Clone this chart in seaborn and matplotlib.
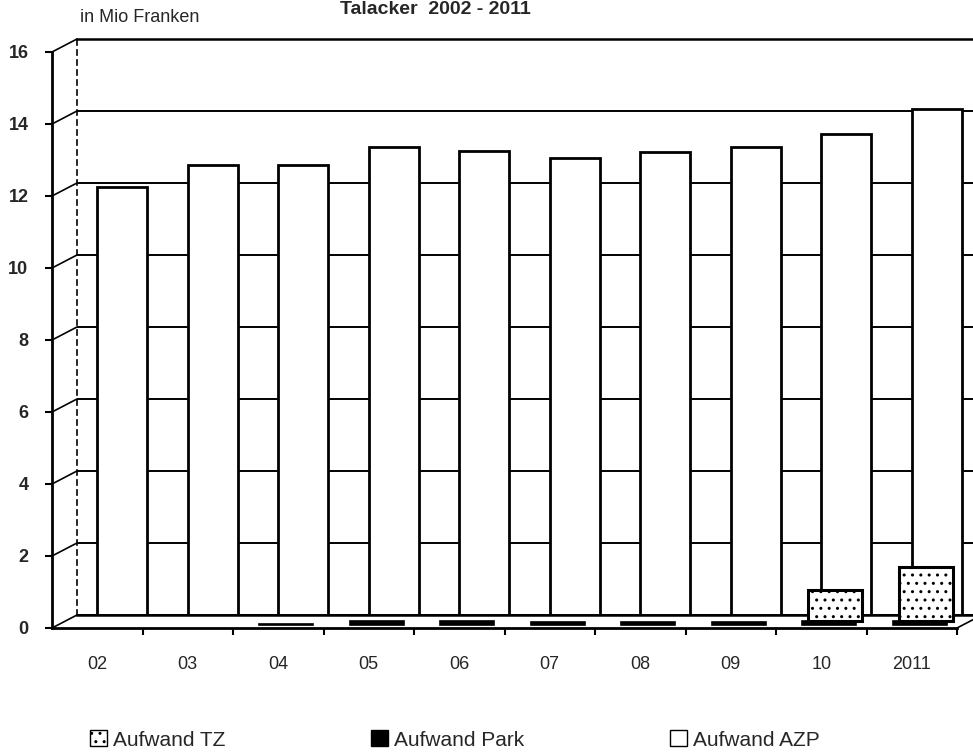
import numpy as np
import pandas as pd
import matplotlib
matplotlib.use("Agg")
import matplotlib.pyplot as plt
import seaborn as sns
from matplotlib.transforms import ScaledTranslation
from matplotlib.patches import ConnectionPatch, Patch

years = ["02", "03", "04", "05", "06", "07", "08", "09", "10", "2011"]
aufwand_tz = [0, 0, 0, 0, 0, 0, 0, 0, 0.85, 1.5]
aufwand_park = [0, 0, 0.02, 0.1, 0.1, 0.08, 0.08, 0.08, 0.1, 0.1]
aufwand_azp = [11.9, 12.5, 12.5, 13.0, 12.9, 12.7, 12.85, 13.0, 13.35, 14.05]
y_ticks = [0, 2, 4, 6, 8, 10, 12, 14, 16]

sns.set_style("white")
plt.rcParams['font.family'] = ['Liberation Sans', 'DejaVu Sans']

W, H, DPI = 973, 752, 100
fig = plt.figure(figsize=(W / DPI, H / DPI), dpi=DPI)

# front plane (axis, ticks) and back wall shifted to fake the 3D depth
left, bottom, width, height = 52, 628, 905, 576
ax_back = fig.add_axes([(left + 25) / W, (H - bottom + 13) / H, width / W, height / H])
ax = fig.add_axes([left / W, (H - bottom) / H, width / W, height / H])
ax.patch.set_alpha(0)

# back wall with AZP bars
sns.barplot(x=years, y=aufwand_azp, ax=ax_back, color="white", edgecolor="black",
            linewidth=2, width=0.55, saturation=1)
ax_back.set_ylim(0, 16)
ax_back.set_yticks(y_ticks)
ax_back.yaxis.grid(True, color="black", linewidth=1.4)
ax_back.set_axisbelow(True)
ax_back.tick_params(left=False, bottom=False, labelleft=False, labelbottom=False)
for s in ["top", "bottom", "right"]:
    ax_back.spines[s].set_color("black")
    ax_back.spines[s].set_linewidth(1.8)
ax_back.spines["left"].set_linestyle((0, (3, 3)))
ax_back.spines["left"].set_linewidth(1.2)
ax_back.spines["left"].set_color("black")
ax_back.set_xlabel("")
ax_back.set_ylabel("")

# front rows: Park (black) and TZ (dotted)
n0 = len(ax.patches)
sns.barplot(x=years, y=aufwand_tz, ax=ax, color="white", edgecolor="black",
            linewidth=2.2, width=0.6, saturation=1)
tz_bars = ax.patches[n0:]
n1 = len(ax.patches)
sns.barplot(x=years, y=aufwand_park, ax=ax, color="black", edgecolor="black",
            linewidth=1.2, width=0.6, saturation=1)
park_bars = ax.patches[n1:]

for p in tz_bars:
    p.set_transform(ax.transData + ScaledTranslation(14 / DPI, 7 / DPI, fig.dpi_scale_trans))
    p.set_hatch("..")
    if p.get_height() == 0:
        p.set_linewidth(0)
for p in park_bars:
    p.set_transform(ax.transData + ScaledTranslation(8 / DPI, 3 / DPI, fig.dpi_scale_trans))
    if p.get_height() == 0:
        p.set_linewidth(0)

ax.set_ylim(0, 16)
ax.set_xlim(-0.5, len(years) - 0.5)
ax_back.set_xlim(-0.5, len(years) - 0.5)
ax.set_yticks(y_ticks)
ax.set_yticklabels([str(t) for t in y_ticks], fontsize=13, fontweight="bold")
ax.set_xticks(range(len(years)))
ax.set_xticklabels(years, fontsize=13)
ax.set_xticks(np.arange(0.5, len(years) - 0.5 + 0.01, 1), minor=True)
ax.tick_params(axis="y", left=True, length=5, width=1.5, pad=12, color="black")
ax.tick_params(axis="x", which="major", bottom=False, length=0, pad=20)
ax.tick_params(axis="x", which="minor", bottom=True, length=5, width=1.5, color="black")
for s in ["top", "right"]:
    ax.spines[s].set_visible(False)
for s in ["left", "bottom"]:
    ax.spines[s].set_color("black")
    ax.spines[s].set_linewidth(2)
ax.set_xlabel("")
ax.set_ylabel("")

# slanted edges between front axis and back wall
for t in y_ticks:
    con = ConnectionPatch(xyA=(-0.5, t), coordsA=ax.transData,
                          xyB=(-0.5, t), coordsB=ax_back.transData,
                          color="black", linewidth=1.2)
    fig.add_artist(con)
con = ConnectionPatch(xyA=(len(years) - 0.5, 0), coordsA=ax.transData,
                      xyB=(len(years) - 0.5, 0), coordsB=ax_back.transData,
                      color="black", linewidth=1.2)
fig.add_artist(con)

fig.text(80 / W, 1 - 17 / H, "in Mio Franken", fontsize=13, va="center", ha="left")
fig.text(435 / W, 1 - 1 / H, "Talacker  2002 - 2011", fontsize=14, fontweight="bold",
         ha="center", va="top")

handles = [Patch(facecolor="white", edgecolor="black", hatch="..", label="Aufwand TZ"),
           Patch(facecolor="black", edgecolor="black", label="Aufwand Park"),
           Patch(facecolor="white", edgecolor="black", label="Aufwand AZP")]
fig.legend(handles=handles, loc="center", bbox_to_anchor=(455 / W, 1 - 740 / H), ncol=3,
           frameon=False, fontsize=15, handlelength=0.8, handleheight=0.8,
           handletextpad=0.3, columnspacing=7.0)

fig.savefig("out.png", dpi=DPI)
